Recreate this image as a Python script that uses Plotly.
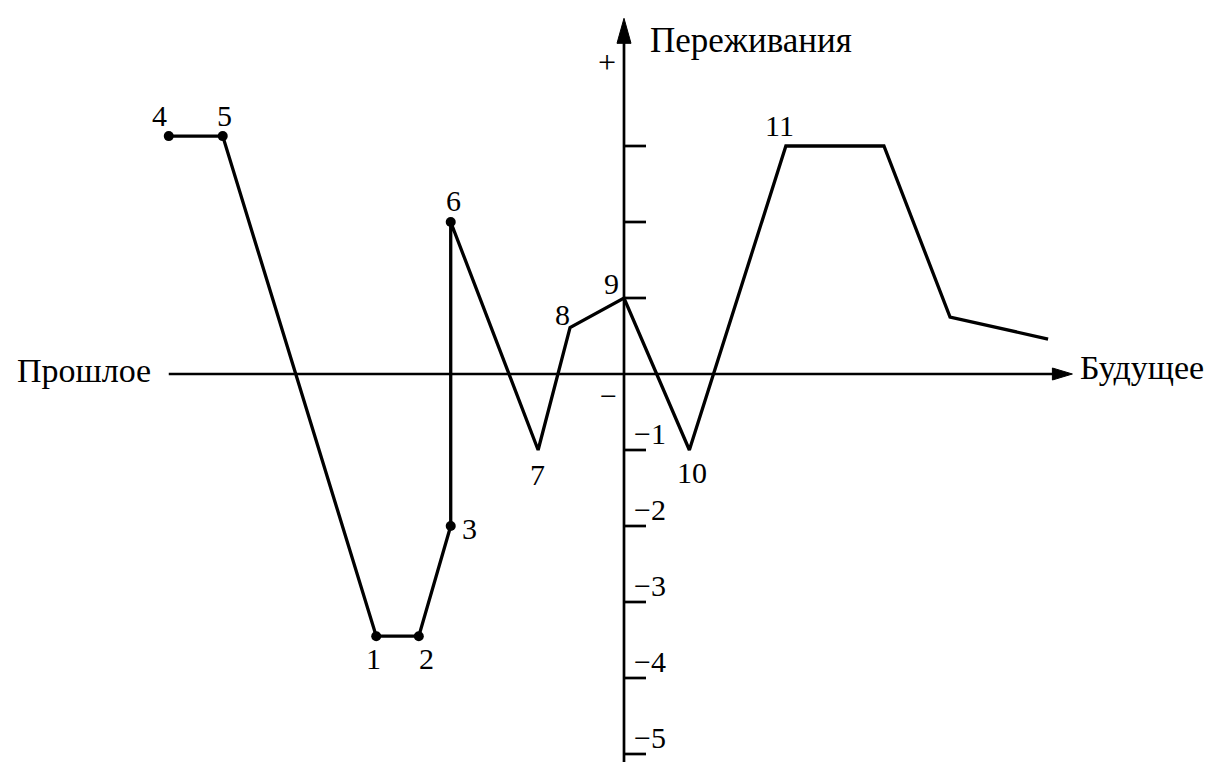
import plotly.graph_objects as go

# curve of experiences over time (past -> future), y in units of the scale
t = [-5.99, -5.28, -3.26, -2.70, -2.28, -2.28, -1.13, -0.71, 0.0, 0.86, 2.13, 3.42, 4.29, 5.58]
feel = [3.13, 3.13, -3.45, -3.45, -2.0, 2.0, -1.0, 0.61, 1.0, -1.0, 3.0, 3.0, 0.75, 0.46]

# numbered points: label -> index into t/feel
point_names = ["4", "5", "1", "2", "3", "6", "7", "8", "9", "10", "11"]
point_idx = [0, 1, 2, 3, 4, 5, 6, 7, 8, 9, 10]
dot_idx = [0, 1, 2, 3, 4, 5]

tick_vals = [3, 2, 1, -1, -2, -3, -4, -5]
neg_ticks = [-1, -2, -3, -4, -5]
neg_labels = ["−1", "−2", "−3", "−4", "−5"]

# axis extents
x_axis = [-5.99, 5.90]
y_axis = [-5.3, 4.68]

FONT = "Liberation Serif, Times New Roman, serif"
PX = 76.0  # pixels per unit

fig = go.Figure()

# axes
fig.add_trace(go.Scatter(x=[x_axis[0], x_axis[1] - 10 / PX, None, 0, 0],
                         y=[0, 0, None, y_axis[0], y_axis[1] - 12 / PX],
                         mode="lines", line=dict(color="black", width=2.7), hoverinfo="skip"))

# tick marks on the vertical axis
tx, ty = [], []
for v in tick_vals:
    tx += [0, 22 / PX, None]
    ty += [v, v, None]
fig.add_trace(go.Scatter(x=tx, y=ty, mode="lines",
                         line=dict(color="black", width=2.7), hoverinfo="skip"))

fig.add_trace(go.Scatter(x=t, y=feel, mode="lines",
                         line=dict(color="black", width=3.3), hoverinfo="skip"))
fig.add_trace(go.Scatter(x=[t[i] for i in dot_idx], y=[feel[i] for i in dot_idx],
                         mode="markers", marker=dict(color="black", size=10),
                         hoverinfo="skip"))

# arrowheads
xt = x_axis[1]
fig.add_shape(type="path", fillcolor="black", line=dict(color="black", width=1),
              path=f"M {xt},0 L {xt - 20 / PX},{6 / PX} L {xt - 20 / PX},{-6 / PX} Z")
yt = y_axis[1]
fig.add_shape(type="path", fillcolor="black", line=dict(color="black", width=1),
              path=f"M 0,{yt} L {7 / PX},{yt - 25 / PX} L {-7 / PX},{yt - 25 / PX} Z")

# point labels, offsets in pixels
shifts = {"4": (-9, 21), "5": (2, 21), "1": (-3, -22), "2": (8, -22), "3": (19, -2),
          "6": (3, 22), "7": (-1, -24), "8": (-8, 13), "9": (-13, 15), "10": (3, -22),
          "11": (-6, 21)}
for name, i in zip(point_names, point_idx):
    dx, dy = shifts[name]
    fig.add_annotation(x=t[i], y=feel[i], text=name, showarrow=False,
                       xshift=dx, yshift=dy, font=dict(family=FONT, size=30, color="black"))

# negative tick labels, sitting above their tick
for v, lab in zip(neg_ticks, neg_labels):
    fig.add_annotation(x=8 / PX, y=v, text=lab, showarrow=False, xanchor="left",
                       yshift=17, font=dict(family=FONT, size=30, color="black"))

fig.add_annotation(x=-0.22, y=4.1, text="+", showarrow=False,
                   font=dict(family=FONT, size=32, color="black"))
fig.add_annotation(x=-0.21, y=-0.28, text="−", showarrow=False,
                   font=dict(family=FONT, size=30, color="black"))

fig.add_annotation(x=0.316, y=4.39, text="Переживания", showarrow=False, xanchor="left",
                   font=dict(family=FONT, size=35, color="black"))
fig.add_annotation(x=-8.01, y=0.05, text="Прошлое", showarrow=False, xanchor="left",
                   font=dict(family=FONT, size=34, color="black"))
fig.add_annotation(x=5.97, y=0.09, text="Будущее", showarrow=False, xanchor="left",
                   font=dict(family=FONT, size=34, color="black"))

fig.update_layout(
    width=1207, height=762,
    margin=dict(l=0, r=0, t=0, b=0),
    paper_bgcolor="white", plot_bgcolor="white",
    showlegend=False,
    xaxis=dict(range=[-624 / PX, (1207 - 624) / PX], visible=False, fixedrange=True),
    yaxis=dict(range=[-(762 - 374) / PX, 374 / PX], visible=False, fixedrange=True),
)

fig.write_html("out.html", config={"displayModeBar": False},
               post_script="document.body.style.margin='0';")
